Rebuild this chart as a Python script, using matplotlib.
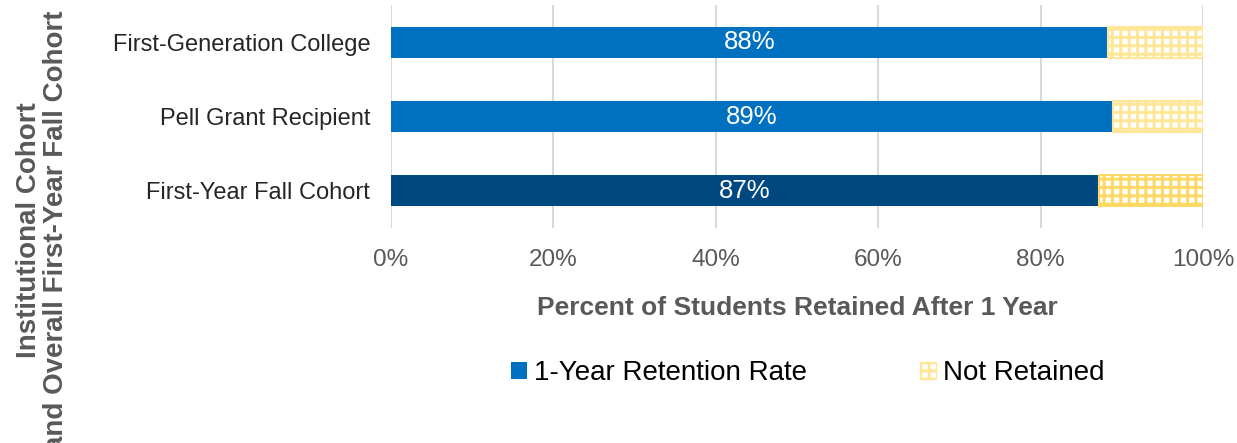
import matplotlib
matplotlib.use("Agg")
import matplotlib.pyplot as plt
from matplotlib.patches import Patch

plt.rcParams["font.family"] = ["Liberation Sans", "DejaVu Sans"]
plt.rcParams["hatch.linewidth"] = 2.2

categories = ["First-Year Fall Cohort", "Pell Grant Recipient", "First-Generation College"]
retained = [87.2, 88.9, 88.3]
labels = ["87%", "89%", "88%"]
not_retained = [100 - v for v in retained]

BLUE, DARK = "#0070C0", "#004880"
YEL_LIGHT, YEL_DARK = "#FFE699", "#FFD966"
GRAY, GRID = "#595959", "#D9D9D9"

fig = plt.figure(figsize=(12.37, 4.43), dpi=100)
ax = fig.add_axes([391 / 1237, 1 - 228 / 443, 812 / 1237, 223 / 443])

ys = list(range(len(categories)))
bar_colors = [DARK, BLUE, BLUE]
hatch_colors = [YEL_DARK, YEL_LIGHT, YEL_LIGHT]
ax.barh(ys, retained, height=0.42, color=bar_colors, zorder=3)
for y, r, nr, hc in zip(ys, retained, not_retained, hatch_colors):
    ax.barh(y, nr, left=r, height=0.42, color="white", edgecolor=hc,
            hatch="++", linewidth=1.5, zorder=3)
for y, r, lab in zip(ys, retained, labels):
    ax.text(r / 2, y, lab, ha="center", va="center", color="white", fontsize=18.5, zorder=4)

ax.set_xlim(0, 100)
ax.set_ylim(-0.5, 2.5)
ax.set_xticks(range(0, 101, 20))
ax.set_xticklabels([f"{v}%" for v in range(0, 101, 20)])
ax.set_yticks(ys)
ax.set_yticklabels(categories)
ax.tick_params(colors=GRAY, labelsize=17.5, length=0, pad=15)
ax.tick_params(axis="y", colors="#262626", labelsize=17, pad=15)
ax.grid(axis="x", color=GRID, lw=1.5, zorder=0)
for s in ax.spines.values():
    s.set_visible(False)
ax.set_xlabel("Percent of Students Retained After 1 Year", fontsize=19, color=GRAY,
              fontweight="bold", labelpad=18)

fig.text(0.034, 0.48, "Institutional Cohort\nand Overall First-Year Fall Cohort", rotation=90,
         ha="center", va="center", multialignment="center", fontsize=20, color=GRAY,
         fontweight="bold", linespacing=1.05)

handles = [Patch(facecolor=BLUE, label="1-Year Retention Rate"),
           Patch(facecolor="white", edgecolor=YEL_LIGHT, hatch="++", label="Not Retained")]
fig.legend(handles=handles, loc="center", bbox_to_anchor=(0.653, 0.158), ncol=2,
           frameon=False, fontsize=20, handlelength=0.55, handleheight=0.55,
           handletextpad=0.25, columnspacing=4.1)

fig.savefig("out.png", dpi=100, facecolor="white")
